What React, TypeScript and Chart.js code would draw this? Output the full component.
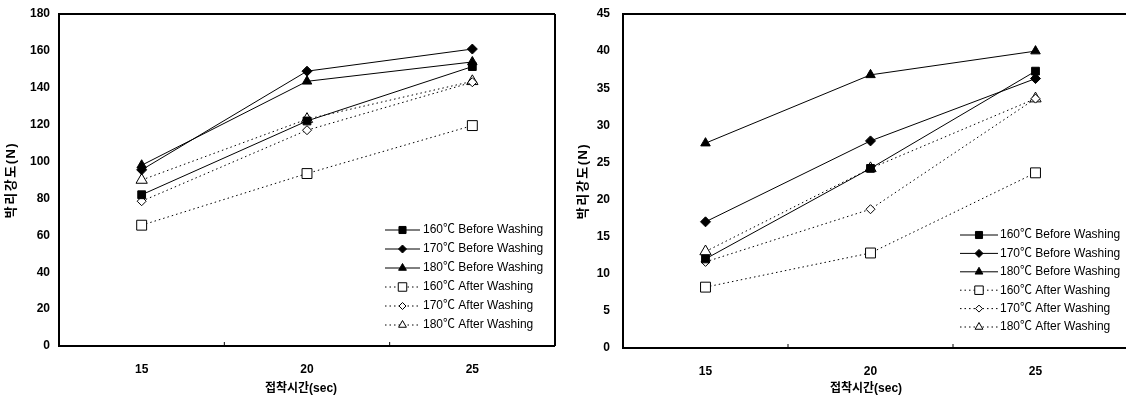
import React, { useEffect, useRef } from 'react';
import { Chart, registerables } from 'chart.js';

Chart.register(...registerables);

// ---------- data ----------
const categories = ['15', '20', '25'];
const seriesLabels = [
  '160℃ Before Washing',
  '170℃ Before Washing',
  '180℃ Before Washing',
  '160℃ After Washing',
  '170℃ After Washing',
  '180℃ After Washing',
];

// left chart
const leftB160 = [82, 122, 151.5];
const leftB170 = [95.5, 149, 161];
const leftB180 = [98, 143.5, 154];
const leftA160 = [65.5, 93.5, 119.5];
const leftA170 = [78.5, 117, 143];
const leftA180 = [90, 123, 143.5];
const leftYMax = 180;
const leftYStep = 20;

// right chart
const rightB160 = [12, 24.2, 37.3];
const rightB170 = [17, 27.9, 36.3];
const rightB180 = [27.6, 36.8, 40];
const rightA160 = [8.2, 12.8, 23.6];
const rightA170 = [11.6, 18.7, 33.6];
const rightA180 = [13, 24.2, 33.6];
const rightYMax = 45;
const rightYStep = 5;

const yTitle = '박리강도(N)';
const xTitle = '접착시간(sec)';

// ---------- styles ----------
const FONT_FAMILY = '"Liberation Sans", Arial, "Noto Sans CJK KR", sans-serif';
const TITLE_FAMILY = '"Liberation Sans", "Noto Sans CJK KR", sans-serif';
const markerStyles = [
  { style: 'rect', r: 5.5, filled: true, lr: 5 },
  { style: 'rectRot', r: 5, filled: true, lr: 4 },
  { style: 'triangle', r: 5.5, filled: true, lr: 4.5 },
  { style: 'rect', r: 7, filled: false, lr: 6 },
  { style: 'rectRot', r: 4.5, filled: false, lr: 3.5 },
  { style: 'triangle', r: 6.5, filled: false, lr: 4.5 },
];

function buildDatasets(series: number[][]) {
  return series.map((data, i) => {
    const m = markerStyles[i];
    const after = i >= 3;
    return {
      label: seriesLabels[i],
      data,
      borderColor: '#000',
      borderWidth: 1,
      borderDash: after ? [1.5, 3] : [],
      pointStyle: m.style,
      pointRadius: m.r,
      pointBackgroundColor: m.filled ? '#000' : '#fff',
      pointBorderColor: '#000',
      pointBorderWidth: 1,
      tension: 0,
      fill: false,
    };
  });
}

function drawMarker(ctx: CanvasRenderingContext2D, style: string, x: number, y: number, r: number, filled: boolean) {
  ctx.save();
  ctx.beginPath();
  if (style === 'rect') {
    const s = r * Math.SQRT1_2;
    ctx.rect(x - s, y - s, 2 * s, 2 * s);
  } else if (style === 'rectRot') {
    ctx.moveTo(x, y - r);
    ctx.lineTo(x + r, y);
    ctx.lineTo(x, y + r);
    ctx.lineTo(x - r, y);
    ctx.closePath();
  } else {
    const h = r * 1.5;
    const half = r * Math.sin(Math.PI / 3);
    ctx.moveTo(x, y - r);
    ctx.lineTo(x + half, y - r + h);
    ctx.lineTo(x - half, y - r + h);
    ctx.closePath();
  }
  ctx.fillStyle = filled ? '#000' : '#fff';
  ctx.fill();
  ctx.setLineDash([]);
  ctx.lineWidth = 1;
  ctx.strokeStyle = '#000';
  ctx.stroke();
  ctx.restore();
}

type Cfg = {
  series: number[][];
  yMax: number;
  yStep: number;
  padRight: number;
  yWidth: number;
  xHeight: number;
  yTickPad: number;
  yTitleX: number;
  xTitleX: number;
  xTitleY: number;
  drawRight: boolean;
  legendX0: number;
  legendX1: number;
  legendTextX: number;
  legendY0: number;
  legendDy: number;
};

function makeChart(canvas: HTMLCanvasElement, cfg: Cfg) {
  const framePlugin = {
    id: 'frame',
    afterDatasetsDraw(chart: any) {
      const { ctx, chartArea: a, scales } = chart;
      ctx.save();
      ctx.strokeStyle = '#000';
      ctx.lineWidth = 2;
      ctx.setLineDash([]);
      ctx.beginPath();
      ctx.moveTo(cfg.drawRight ? a.right : chart.width, a.top);
      ctx.lineTo(a.left, a.top);
      ctx.lineTo(a.left, a.bottom);
      ctx.lineTo(cfg.drawRight ? a.right : chart.width, a.bottom);
      if (cfg.drawRight) {
        ctx.moveTo(a.right, a.top);
        ctx.lineTo(a.right, a.bottom);
      }
      ctx.stroke();
      const xs = scales.x;
      ctx.lineWidth = 1;
      ctx.beginPath();
      for (let i = 0; i < categories.length - 1; i++) {
        const px = (xs.getPixelForValue(i) + xs.getPixelForValue(i + 1)) / 2;
        ctx.moveTo(px, a.bottom);
        ctx.lineTo(px, a.bottom - 4);
      }
      ctx.stroke();
      ctx.restore();
    },
  };

  const titlesPlugin = {
    id: 'axisTitles',
    afterDraw(chart: any) {
      const { ctx, chartArea: a } = chart;
      ctx.save();
      ctx.fillStyle = '#000';
      ctx.textAlign = 'center';
      ctx.textBaseline = 'middle';
      // y title (rotated)
      ctx.save();
      ctx.translate(cfg.yTitleX, (a.top + a.bottom) / 2);
      ctx.rotate(-Math.PI / 2);
      ctx.font = 'bold 13px ' + TITLE_FAMILY;
      (ctx as any).letterSpacing = '1.5px';
      ctx.fillText(yTitle, 0, 0);
      ctx.restore();
      // x title
      ctx.font = 'bold 12px ' + TITLE_FAMILY;
      (ctx as any).letterSpacing = '0px';
      ctx.fillText(xTitle, cfg.xTitleX, cfg.xTitleY);
      ctx.restore();
    },
  };

  const legendPlugin = {
    id: 'customLegend',
    afterDraw(chart: any) {
      const { ctx } = chart;
      ctx.save();
      chart.data.datasets.forEach((ds: any, i: number) => {
        const y = cfg.legendY0 + i * cfg.legendDy;
        ctx.strokeStyle = '#000';
        ctx.lineWidth = 1;
        ctx.setLineDash(ds.borderDash || []);
        ctx.beginPath();
        ctx.moveTo(cfg.legendX0, y);
        ctx.lineTo(cfg.legendX1, y);
        ctx.stroke();
        ctx.setLineDash([]);
        const m = markerStyles[i];
        drawMarker(ctx, m.style, (cfg.legendX0 + cfg.legendX1) / 2, y, m.lr, m.filled);
        ctx.fillStyle = '#000';
        ctx.font = '12px ' + FONT_FAMILY;
        ctx.textBaseline = 'middle';
        ctx.textAlign = 'left';
        ctx.fillText(ds.label, cfg.legendTextX, y);
      });
      ctx.restore();
    },
  };

  const tickFont = { family: FONT_FAMILY, size: 12, weight: 'bold' as const };

  return new Chart(canvas, {
    type: 'line',
    data: { labels: categories, datasets: buildDatasets(cfg.series) as any },
    options: {
      responsive: false,
      animation: false,
      layout: { padding: { left: 0, top: 14, right: cfg.padRight, bottom: 0 } },
      plugins: { legend: { display: false }, tooltip: { enabled: false } },
      scales: {
        x: {
          type: 'category',
          offset: true,
          grid: { display: false, drawTicks: false },
          border: { display: false },
          ticks: { font: tickFont, color: '#000', padding: 16 },
          afterFit: (s: any) => {
            s.height = cfg.xHeight;
            s.paddingLeft = 0;
            s.paddingRight = 0;
          },
        },
        y: {
          min: 0,
          max: cfg.yMax,
          grid: { display: false, drawTicks: false },
          border: { display: false },
          ticks: { stepSize: cfg.yStep, font: tickFont, color: '#000', padding: cfg.yTickPad },
          afterFit: (s: any) => {
            s.width = cfg.yWidth;
            s.paddingTop = 0;
            s.paddingBottom = 0;
          },
        },
      },
    } as any,
    plugins: [framePlugin, titlesPlugin, legendPlugin],
  });
}

export default function App() {
  const leftRef = useRef<HTMLCanvasElement>(null);
  const rightRef = useRef<HTMLCanvasElement>(null);

  useEffect(() => {
    const left = makeChart(leftRef.current!, {
      series: [leftB160, leftB170, leftB180, leftA160, leftA170, leftA180],
      yMax: leftYMax,
      yStep: leftYStep,
      padRight: 3,
      yWidth: 59,
      xHeight: 55,
      yTickPad: 9,
      yTitleX: 11,
      xTitleX: 301,
      xTitleY: 389,
      drawRight: true,
      legendX0: 385,
      legendX1: 420,
      legendTextX: 423,
      legendY0: 230,
      legendDy: 19,
    });
    const right = makeChart(rightRef.current!, {
      series: [rightB160, rightB170, rightB180, rightA160, rightA170, rightA180],
      yMax: rightYMax,
      yStep: rightYStep,
      padRight: 0,
      yWidth: 60,
      xHeight: 53,
      yTickPad: 13,
      yTitleX: 20,
      xTitleX: 303,
      xTitleY: 389,
      drawRight: false,
      legendX0: 397,
      legendX1: 435,
      legendTextX: 437,
      legendY0: 235,
      legendDy: 18.4,
    });
    return () => {
      left.destroy();
      right.destroy();
    };
  }, []);

  return (
    <div style={{ position: 'absolute', left: 0, top: 0, width: 1126, height: 401, display: 'flex', background: '#fff' }}>
      <canvas ref={leftRef} width={563} height={401} style={{ width: 563, height: 401, display: 'block' }} />
      <canvas ref={rightRef} width={563} height={401} style={{ width: 563, height: 401, display: 'block' }} />
    </div>
  );
}
